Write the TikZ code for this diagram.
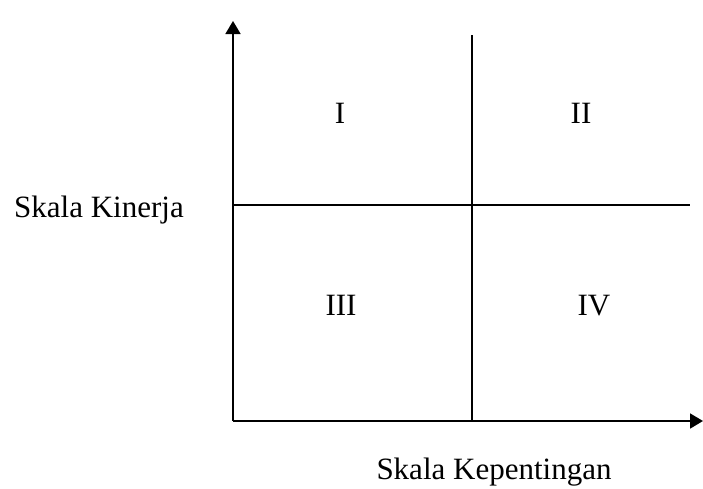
\documentclass[tikz,border=0pt]{standalone}
\usepackage{fontspec}
\setmainfont{Liberation Serif}
\usetikzlibrary{arrows.meta}

\begin{document}
\begin{tikzpicture}[x=1pt,y=-1pt]
\tikzstyle{axis} = [line width=1.8pt,-{Triangle[length=13pt,width=15pt]}]
\tikzstyle{divider} = [line width=1.2pt]
\tikzstyle{label} = [font=\fontsize{31}{36}\selectfont, inner sep=0pt]

\useasboundingbox (0,0) rectangle (703,488);

\coordinate (origin) at (233,421);
\coordinate (ytop) at (233,21);
\coordinate (xend) at (703,421);
\coordinate (midtop) at (472,35);
\coordinate (midbot) at (472,421);
\coordinate (hleft) at (233,205);
\coordinate (hright) at (690,205);

\draw [axis] (origin) -- (ytop);
\draw [axis] (origin) -- (xend);
\draw [divider] (midtop) -- (midbot);
\draw [divider] (hleft) -- (hright);

\node (q1) [label, anchor=base] at (340,123) {I};
\node (q2) [label, anchor=base] at (581,123) {II};
\node (q3) [label, anchor=base] at (341,315) {III};
\node (q4) [label, anchor=base] at (594,315) {IV};
\node (ylab) [label, anchor=base] at (99,217) {Skala Kinerja};
\node (xlab) [label, anchor=base] at (494,479) {Skala Kepentingan};
\end{tikzpicture}
\end{document}
